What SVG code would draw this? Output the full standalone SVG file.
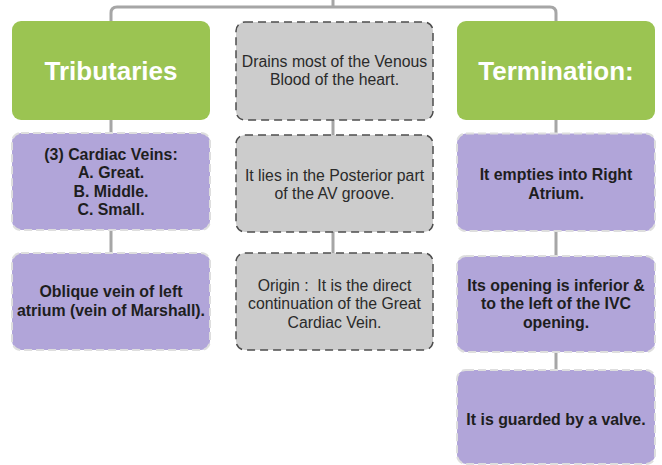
<svg xmlns="http://www.w3.org/2000/svg" width="662" height="465" viewBox="0 0 662 465">
<style>
.green{fill:#9bc452;}
.purple{fill:#b1a5d9;stroke:#dedede;stroke-width:2;stroke-dasharray:8 4;}
.gray{fill:#cccccc;stroke:#4d4d4d;stroke-width:1.5;stroke-dasharray:8 5;}
.conn{fill:none;stroke:#a6a6a6;stroke-width:3;}
.title{font-family:"Liberation Sans",Arial,sans-serif;font-weight:bold;font-size:26px;fill:#ffffff;text-anchor:middle;}
.bt{font-family:"Liberation Sans",Arial,sans-serif;font-weight:bold;font-size:15.9px;fill:#1e1e1e;text-anchor:middle;}
.rt{font-family:"Liberation Sans",Arial,sans-serif;font-size:15.8px;fill:#2a2a2a;text-anchor:middle;}
</style>
<rect width="662" height="465" fill="#ffffff"/>
<g id="connectors">
<path class="conn" d="M333,0 V7 M111,21 V13 Q111,7 117,7 H550 Q556,7 556,13 V21"/>
<path class="conn" d="M111,120 V133 M111,230 V253"/>
<path class="conn" d="M333,120 V135 M333,232 V253"/>
<path class="conn" d="M556,120 V133 M556,231 V256 M556,352 V370"/>
</g>
<g id="tributaries">
<rect class="green" x="12" y="21" width="198" height="99" rx="9"/>
<text class="title" x="111" y="79.5">Tributaries</text>
</g>
<g id="cardiac-veins">
<rect class="purple" x="12" y="133" width="198" height="97" rx="9"/>
<text class="bt" x="111" y="160">(3) Cardiac Veins:</text>
<text class="bt" x="111" y="178.3">A. Great.</text>
<text class="bt" x="111" y="196.6">B. Middle.</text>
<text class="bt" x="111" y="215">C. Small.</text>
</g>
<g id="oblique-vein">
<rect class="purple" x="12" y="253" width="198" height="97" rx="9"/>
<text class="bt" x="111" y="297">Oblique vein of left</text>
<text class="bt" x="111" y="315.5">atrium (vein of Marshall).</text>
</g>
<g id="drains">
<rect class="gray" x="236" y="22" width="197" height="98" rx="9"/>
<text class="rt" x="334.5" y="66.5">Drains most of the Venous</text>
<text class="rt" x="334.5" y="85">Blood of the heart.</text>
</g>
<g id="posterior">
<rect class="gray" x="236" y="135" width="197" height="97" rx="9"/>
<text class="rt" x="334.5" y="180.5">It lies in the Posterior part</text>
<text class="rt" x="334.5" y="198.5">of the AV groove.</text>
</g>
<g id="origin">
<rect class="gray" x="236" y="253" width="197" height="97" rx="9"/>
<text class="rt" x="334.5" y="290.5">Origin :&#160; It is the direct</text>
<text class="rt" x="334.5" y="309">continuation of the Great</text>
<text class="rt" x="334.5" y="327.5">Cardiac Vein.</text>
</g>
<g id="termination">
<rect class="green" x="457" y="21" width="198" height="99" rx="9"/>
<text class="title" x="556" y="79.5">Termination:</text>
</g>
<g id="right-atrium">
<rect class="purple" x="457" y="133.5" width="198" height="97.5" rx="9"/>
<text class="bt" x="556" y="180">It empties into Right</text>
<text class="bt" x="556" y="198.5">Atrium.</text>
</g>
<g id="opening">
<rect class="purple" x="457" y="256" width="198" height="96" rx="9"/>
<text class="bt" x="556" y="290.7">Its opening is inferior &amp;</text>
<text class="bt" x="556" y="309.2">to the left of the IVC</text>
<text class="bt" x="556" y="327.7">opening.</text>
</g>
<g id="valve">
<rect class="purple" x="457" y="370" width="198" height="94" rx="9"/>
<text class="bt" x="556" y="425">It is guarded by a valve.</text>
</g>
</svg>
